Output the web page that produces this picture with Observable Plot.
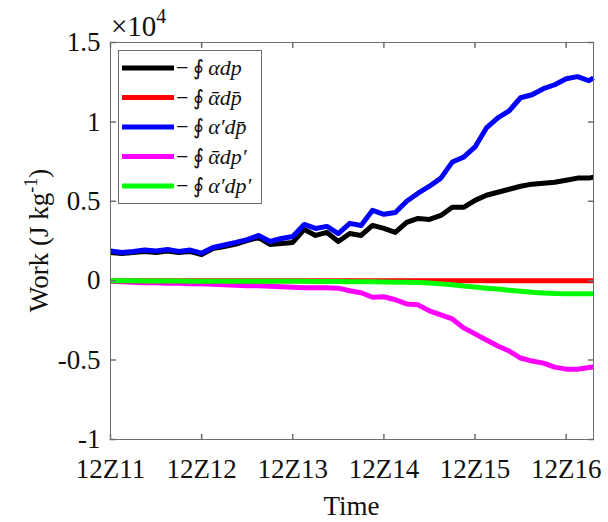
<!DOCTYPE html>
<html>
<head>
<meta charset="utf-8">
<script src="https://cdn.jsdelivr.net/npm/d3@7"></script>
<script src="https://cdn.jsdelivr.net/npm/@observablehq/plot@0.6"></script>
<style>
  body { margin: 0; background: #fff; }
  #chart { width: 608px; height: 522px; }
</style>
</head>
<body>
<div id="chart"></div>
<script>
// Time in days since 12Z11
const days = [0,0.125,0.25,0.375,0.5,0.625,0.75,0.875,1,1.125,1.25,1.375,1.5,1.625,1.75,1.875,2,2.125,2.25,2.375,2.5,2.625,2.75,2.875,3,3.125,3.25,3.375,3.5,3.625,3.75,3.875,4,4.125,4.25,4.375,4.5,4.625,4.75,4.875,5,5.125,5.25,5.3];
const tickDays = [0,1,2,3,4,5];
const tickLabels = ["12Z11","12Z12","12Z13","12Z14","12Z15","12Z16"];
const yTicks = [-1,-0.5,0,0.5,1,1.5];

// Work, in units of 10^4 J kg^-1
const alphaDp = [0.177,0.171,0.177,0.184,0.177,0.187,0.177,0.184,0.165,0.203,0.215,0.231,0.253,0.272,0.228,0.234,0.241,0.323,0.285,0.304,0.247,0.297,0.285,0.348,0.329,0.304,0.367,0.392,0.386,0.411,0.462,0.462,0.506,0.538,0.557,0.576,0.595,0.608,0.614,0.620,0.633,0.646,0.646,0.652];
const meanAlphaMeanDp = [0,0,0,0,0,0,0,0,0,0,0,0,0,0,0,0,0,0,0,0,0,0,0,0,0,0,0,0,0,0,0,0,0,0,0,0,0,0,0,0,0,0,0,0];
const primeAlphaMeanDp = [0.187,0.177,0.184,0.193,0.187,0.196,0.184,0.193,0.174,0.209,0.225,0.241,0.259,0.285,0.247,0.266,0.278,0.354,0.329,0.342,0.297,0.361,0.348,0.443,0.418,0.430,0.500,0.551,0.595,0.646,0.747,0.778,0.842,0.962,1.025,1.070,1.152,1.171,1.209,1.234,1.272,1.285,1.259,1.278];
const meanAlphaPrimeDp = [-0.003,-0.006,-0.009,-0.013,-0.013,-0.016,-0.016,-0.019,-0.019,-0.022,-0.025,-0.028,-0.032,-0.032,-0.035,-0.038,-0.041,-0.044,-0.044,-0.044,-0.047,-0.063,-0.076,-0.104,-0.101,-0.120,-0.146,-0.152,-0.190,-0.215,-0.241,-0.297,-0.335,-0.373,-0.411,-0.443,-0.487,-0.506,-0.519,-0.544,-0.557,-0.557,-0.547,-0.544];
const primeAlphaPrimeDp = [0,-0.001,-0.001,-0.002,-0.002,-0.002,-0.002,-0.003,-0.003,-0.003,-0.003,-0.003,-0.003,-0.004,-0.004,-0.004,-0.004,-0.004,-0.005,-0.005,-0.005,-0.006,-0.006,-0.007,-0.008,-0.009,-0.010,-0.012,-0.015,-0.020,-0.026,-0.033,-0.040,-0.047,-0.053,-0.060,-0.067,-0.073,-0.078,-0.081,-0.082,-0.082,-0.082,-0.082];

const seriesLabels = ["\u03B1dp", "\u03B1\u0304dp\u0304", "\u03B1\u2032dp\u0304", "\u03B1\u0304dp\u2032", "\u03B1\u2032dp\u2032"];
const seriesColors = ["#000000", "#ff0000", "#0000ff", "#ff00ff", "#00ff00"];
const seriesValues = [alphaDp, meanAlphaMeanDp, primeAlphaMeanDp, meanAlphaPrimeDp, primeAlphaPrimeDp];
const drawOrder = [0, 2, 3, 1, 4];

const rowsFor = (vals) => days.map((t, i) => ({t, v: vals[i]}));

const W = 608, H = 522;
const mL = 110, mR = 15, mT = 42, mB = 83;
const axisColor = "#6e6e6e";
const tickLen = 5;
const tickShape = { draw(ctx, l) { ctx.moveTo(0, 0); ctx.lineTo(0, -l); } };

const xMax = 5.3;
const marks = [];
for (const s of drawOrder) {
  marks.push(Plot.line(rowsFor(seriesValues[s]), {x: "t", y: "v", stroke: seriesColors[s], strokeWidth: 5, strokeLinejoin: "round", strokeLinecap: "butt"}));
}
// frame and MATLAB-style inward ticks
marks.push(Plot.frame({stroke: axisColor, strokeWidth: 1}));
marks.push(Plot.vector(tickDays, {x: d => d, y: -1, length: tickLen, rotate: 0, anchor: "start", shape: tickShape, stroke: axisColor}));
marks.push(Plot.vector(tickDays, {x: d => d, y: 1.5, length: tickLen, rotate: 180, anchor: "start", shape: tickShape, stroke: axisColor}));
marks.push(Plot.vector(yTicks, {x: 0, y: d => d, length: tickLen, rotate: 90, anchor: "start", shape: tickShape, stroke: axisColor}));
marks.push(Plot.vector(yTicks, {x: xMax, y: d => d, length: tickLen, rotate: -90, anchor: "start", shape: tickShape, stroke: axisColor}));
marks.push(Plot.axisX({ticks: tickDays, tickFormat: d => tickLabels[tickDays.indexOf(d)], tickSize: 0, tickPadding: 19, fontSize: 27, label: null}));
marks.push(Plot.axisY({ticks: yTicks, tickFormat: d => String(d), tickSize: 0, tickPadding: 10, fontSize: 27, label: null}));

const chart = Plot.plot({
  width: W, height: H,
  marginLeft: mL, marginRight: mR, marginTop: mT, marginBottom: mB,
  style: {fontFamily: "'Liberation Serif', 'Times New Roman', serif", color: "#111", background: "#fff"},
  x: {domain: [0, xMax]},
  y: {domain: [-1, 1.5]},
  marks
});
document.getElementById("chart").appendChild(chart);

const svg = d3.select(chart);
const serif = "'Liberation Serif', 'Times New Roman', serif";

// ×10^4 exponent label
const ex = svg.append("text").attr("x", 111).attr("y", 36).attr("text-anchor", "start")
  .attr("font-family", serif).style("font-size", "29px").attr("fill", "#111");
ex.append("tspan").text("\u00D710");
ex.append("tspan").style("font-size", "20px").attr("dy", -13).text("4");

// Axis titles
svg.append("text").attr("x", mL + (W - mL - mR) / 2).attr("y", 515).attr("text-anchor", "middle")
  .attr("font-family", serif).attr("font-size", 27).attr("fill", "#111").text("Time");
const yl = svg.append("text").attr("transform", `translate(48,${mT + (H - mT - mB) / 2}) rotate(-90)`)
  .attr("text-anchor", "middle").attr("font-family", serif).attr("font-size", 27).attr("fill", "#111");
yl.append("tspan").text("Work (J kg");
yl.append("tspan").attr("font-size", 18).attr("dy", -11).text("-1");
yl.append("tspan").attr("dy", 11).text(")");

// Legend
const lg = svg.append("g");
lg.append("rect").attr("x", 118.5).attr("y", 50.5).attr("width", 143).attr("height", 153)
  .attr("fill", "#fff").attr("stroke", axisColor).attr("stroke-width", 1);
seriesLabels.forEach((lab, i) => {
  const y = 68 + i * 29.5;
  lg.append("line").attr("x1", 122).attr("x2", 174).attr("y1", y).attr("y2", y)
    .attr("stroke", seriesColors[i]).attr("stroke-width", 5);
  const t = lg.append("text").attr("x", 176).attr("y", y + 7).attr("text-anchor", "start")
    .attr("font-family", serif).attr("font-size", 22).attr("fill", "#111");
  t.append("tspan").text("\u2212\u2009");
  t.append("tspan").attr("font-family", "'DejaVu Serif', serif").attr("font-size", 21).text("\u222E");
  t.append("tspan").attr("font-style", "italic").text("\u2009" + lab);
});
</script>
</body>
</html>
